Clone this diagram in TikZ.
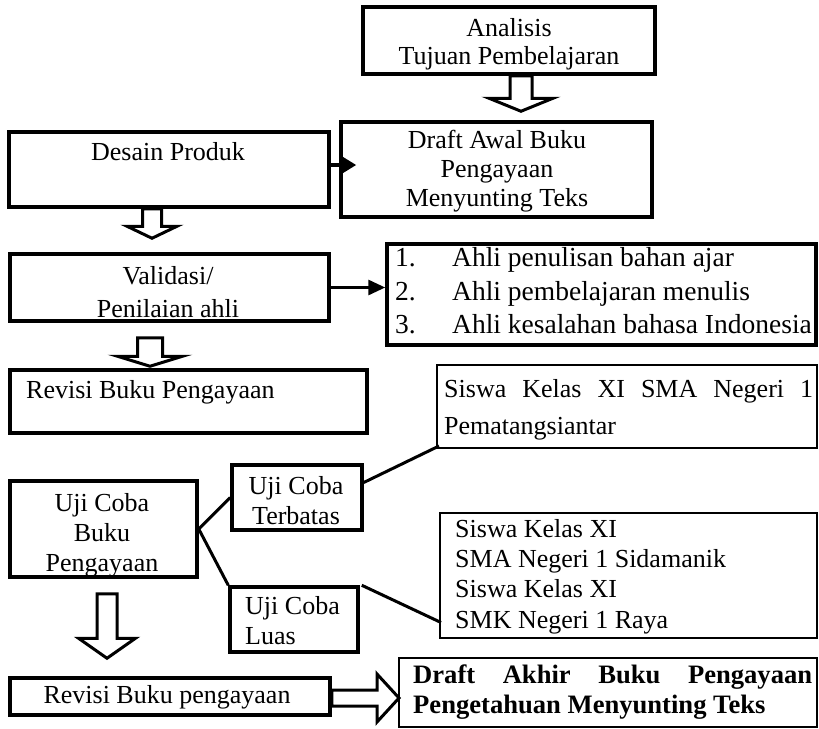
\documentclass[tikz,border=0pt]{standalone}
\usepackage{fontspec}
\setmainfont{Liberation Serif}
\usetikzlibrary{calc,arrows.meta}
\pgfdeclarelayer{bg}
\pgfsetlayers{bg,main}
\newcommand{\blockdown}[5]{\draw[blk] let \p1=(#1), \p2=(#2) in
 (\x1-#3pt,\y1) -- (\x1-#3pt,\y2+#5pt) -- (\x1-#4pt,\y2+#5pt) -- (\x1,\y2) -- (\x1+#4pt,\y2+#5pt) -- (\x1+#3pt,\y2+#5pt) -- (\x1+#3pt,\y1) -- cycle;}
\newcommand{\blockright}[5]{\draw[blk] let \p1=(#1), \p2=(#2) in
 (\x1,\y1+#3pt) -- (\x2-#5pt,\y1+#3pt) -- (\x2-#5pt,\y1+#4pt) -- (\x2,\y1) -- (\x2-#5pt,\y1-#4pt) -- (\x2-#5pt,\y1-#3pt) -- (\x1,\y1-#3pt) -- cycle;}
\tikzset{
  box/.style={draw, line width=3.5pt, inner sep=0pt},
  thinbox/.style={draw, line width=2pt, inner sep=0pt},
  txt/.style={inner sep=0pt, font=\fontsize{26pt}{30pt}\selectfont},
  blk/.style={draw, line width=3pt, fill=white, line join=miter},
  conn/.style={line width=3pt},
  arr/.style={line width=3.5pt, -{Triangle[length=14pt,width=16pt]}}
}
\begin{document}
\begin{tikzpicture}[x=1pt,y=-1pt]
\useasboundingbox (0,0) rectangle (819,728);
% boxes
\node[box, minimum width=292pt, minimum height=67pt] (A) at (509,40.5) {};
\node[box, minimum width=311pt, minimum height=95pt] (dA) at (496.5,169.5) {};
\node[box, minimum width=320pt, minimum height=75pt] (dp) at (169,169.5) {};
\node[box, minimum width=319pt, minimum height=67pt] (va) at (169.5,287.5) {};
\node[box, minimum width=429pt, minimum height=101pt] (ls) at (601.5,294.5) {};
\node[box, minimum width=357pt, minimum height=63pt] (r1) at (188.5,401.5) {};
\node[thinbox, minimum width=380pt, minimum height=83pt] (s1) at (627,406.5) {};
\node[box, minimum width=130pt, minimum height=65pt] (tb) at (297,497.5) {};
\node[box, minimum width=187pt, minimum height=96pt] (ub) at (103.5,529) {};
\node[box, minimum width=128pt, minimum height=65pt] (lu) at (294,619.5) {};
\node[thinbox, minimum width=377pt, minimum height=125pt] (s2) at (628.5,575) {};
\node[box, minimum width=320pt, minimum height=37pt] (r2) at (170,696.5) {};
\node[thinbox, minimum width=418pt, minimum height=69pt] (da) at (608,692.5) {};
% texts
\node[txt, align=center, font=\fontsize{26pt}{28pt}\selectfont] (tA) at (509,44) {Analisis\\Tujuan Pembelajaran};
\node[txt, align=center, font=\fontsize{26pt}{29pt}\selectfont] (tdA) at (497,171) {Draft Awal Buku\\Pengayaan\\Menyunting Teks};
\node[txt] (tdp) at (168,152) {Desain Produk};
\node[txt, align=center, font=\fontsize{26pt}{33pt}\selectfont] (tva) at (168,292) {Validasi/\\Penilaian ahli};
\node[txt, anchor=west, align=left, font=\fontsize{27.5pt}{33.5pt}\selectfont] (tls) at (395,291) {\makebox[57pt][l]{1.}Ahli penulisan bahan ajar\\\makebox[57pt][l]{2.}Ahli pembelajaran menulis\\\makebox[57pt][l]{3.}Ahli kesalahan bahasa Indonesia};
\node[txt, anchor=west] (tr1) at (26,392) {Revisi Buku Pengayaan};
\node[txt, anchor=west, align=left, font=\fontsize{26pt}{37pt}\selectfont] (ts1) at (444,410) {\hbox to 369pt{Siswa\hfill Kelas\hfill XI\hfill SMA\hfill Negeri\hfill 1}\\Pematangsiantar};
\node[txt, align=center, font=\fontsize{26pt}{30pt}\selectfont] (ttb) at (296,501) {Uji Coba\\Terbatas};
\node[txt, align=center, font=\fontsize{26pt}{30pt}\selectfont] (tub) at (102,535) {Uji Coba\\Buku\\Pengayaan};
\node[txt, anchor=west, align=left, font=\fontsize{26pt}{30pt}\selectfont] (tlu) at (245,621) {Uji Coba\\Luas};
\node[txt, anchor=west, align=left, font=\fontsize{26pt}{30.3pt}\selectfont] (ts2) at (455,576.5) {Siswa Kelas XI\\SMA Negeri 1 Sidamanik\\Siswa Kelas XI\\SMK Negeri 1 Raya};
\node[txt] (tr2) at (167,697) {Revisi Buku pengayaan};
\node[txt, anchor=west, align=left, font=\bfseries\fontsize{26.6pt}{30pt}\selectfont] (tda) at (413,692) {\hbox to 399pt{Draft\hfill Akhir\hfill Buku\hfill Pengayaan}\\Pengetahuan Menyunting Teks};
% connectors
\begin{pgfonlayer}{bg}
\blockdown{[xshift=12pt]A.south}{[yshift=9pt]dA.north}{11}{32}{13}
\blockdown{[xshift=-17pt]dp.south}{[yshift=14pt]va.north}{9.5}{25}{12}
\blockdown{[xshift=-19.5pt,yshift=-15pt]va.south}{[yshift=2pt]r1.north}{12.5}{32.5}{10}
\blockdown{[xshift=3.5pt,yshift=-15pt]ub.south}{[yshift=18pt]r2.north}{10}{28.5}{20}
\blockright{[yshift=-1.5pt]r2.east}{[xshift=1pt]da.west}{8}{24}{22}
\end{pgfonlayer}
\draw[arr] ([yshift=4.5pt]dp.east) -- ([yshift=4.5pt,xshift=17pt]dp.east -| dA.west);
\draw[arr, line width=3pt, -{Triangle[length=17pt,width=15pt]}] (va.east) -- (va.east -| ls.west);
\draw[conn] (ub.east) -- (tb.west);
\draw[conn] (ub.east) -- (lu.north west);
\draw[conn] ([yshift=15pt]tb.east) -- ([xshift=3pt,yshift=3pt]s1.south west);
\draw[conn] ([xshift=2pt]lu.north east) -- ([xshift=2pt,yshift=16pt]s2.south west);
\end{tikzpicture}
\end{document}
